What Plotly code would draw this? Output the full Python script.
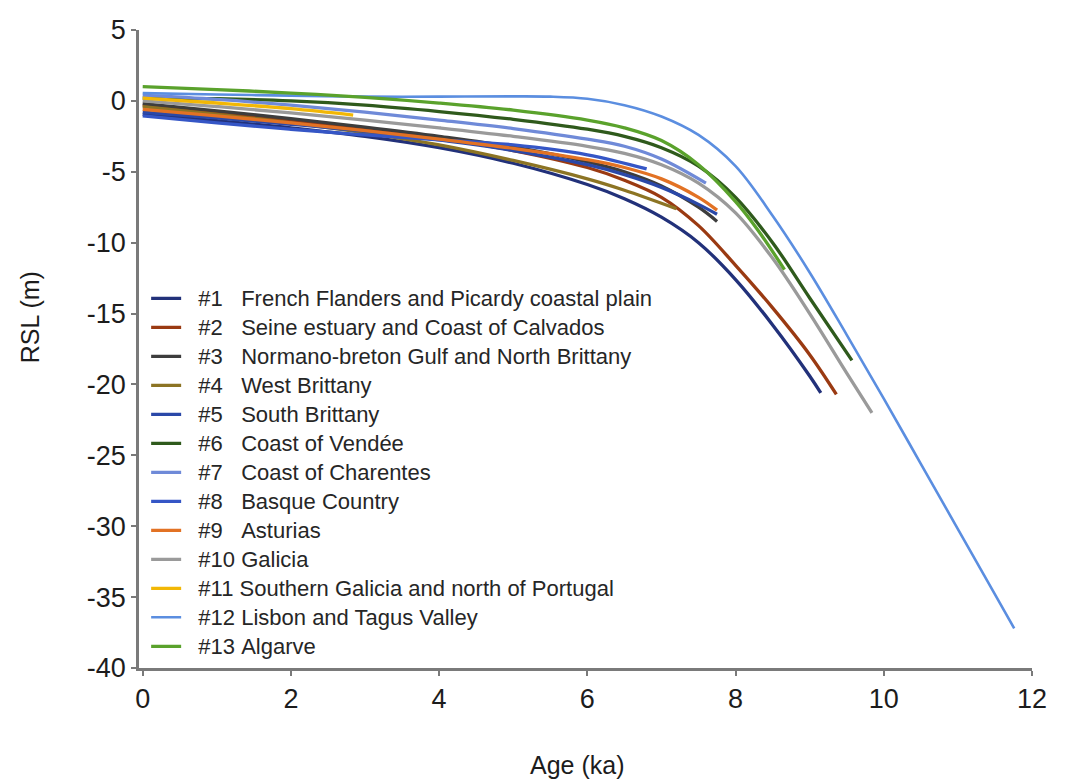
import plotly.graph_objects as go

# ---- data ----
names = [
    "#1", "#2", "#3", "#4", "#5", "#6", "#7", "#8", "#9", "#10", "#11", "#12", "#13",
]
regions = [
    "French Flanders and Picardy coastal plain",
    "Seine estuary and Coast of Calvados",
    "Normano-breton Gulf and North Brittany",
    "West Brittany",
    "South Brittany",
    "Coast of Vendée",
    "Coast of Charentes",
    "Basque Country",
    "Asturias",
    "Galicia",
    "Southern Galicia and north of Portugal",
    "Lisbon and Tagus Valley",
    "Algarve",
]
colors = [
    "#22317a", "#9a3a12", "#3d3d3d", "#8c7424", "#2a48a8", "#2f5a1c", "#6f8ad8",
    "#3556c6", "#e27224", "#9a9a9a", "#f2b705", "#5b8ee0", "#5aa22c",
]
widths = [3.3, 3.3, 3.3, 3.3, 3.3, 3.3, 3.3, 3.3, 3.3, 3.3, 3.3, 2.6, 3.3]

age_1 = [0, 1, 2, 3, 4, 5, 6, 6.5, 7, 7.5, 8, 8.5, 9, 9.15]
rsl_1 = [-0.95, -1.4, -1.9, -2.5, -3.3, -4.4, -5.9, -6.9, -8.2, -10.0, -12.6, -15.8, -19.4, -20.6]
age_2 = [0, 1, 2, 3, 4, 5, 6, 6.5, 7, 7.5, 8, 8.5, 9, 9.36]
rsl_2 = [-0.3, -0.8, -1.35, -1.95, -2.65, -3.5, -4.7, -5.6, -6.8, -8.8, -11.6, -14.6, -17.9, -20.7]
age_3 = [0, 1, 2, 3, 4, 5, 6, 6.5, 7, 7.5, 7.75]
rsl_3 = [-0.2, -0.7, -1.25, -1.85, -2.5, -3.25, -4.3, -5.0, -6.0, -7.5, -8.5]
age_4 = [0, 1, 2, 3, 4, 5, 6, 6.5, 7.2]
rsl_4 = [-0.4, -0.95, -1.55, -2.25, -3.1, -4.2, -5.5, -6.3, -7.6]
age_5 = [0, 1, 2, 3, 4, 5, 6, 6.5, 7, 7.5, 7.75]
rsl_5 = [-0.8, -1.2, -1.65, -2.15, -2.75, -3.5, -4.5, -5.2, -6.1, -7.3, -8.0]
age_6 = [0, 1, 2, 3, 4, 5, 6, 6.5, 7, 7.5, 8, 8.5, 9, 9.57]
rsl_6 = [0.2, 0.15, 0.0, -0.3, -0.75, -1.3, -2.0, -2.5, -3.3, -4.6, -6.8, -10.0, -13.9, -18.3]
age_7 = [0, 1, 2, 3, 4, 5, 6, 6.5, 7, 7.6]
rsl_7 = [0.4, 0.1, -0.3, -0.8, -1.35, -1.95, -2.7, -3.2, -4.1, -5.8]
age_8 = [0, 1, 2, 3, 4, 5, 6, 6.8]
rsl_8 = [-1.05, -1.55, -2.0, -2.4, -2.75, -3.1, -3.8, -4.8]
age_9 = [0, 1, 2, 3, 4, 5, 6, 6.5, 7, 7.5, 7.75]
rsl_9 = [-0.6, -1.05, -1.55, -2.1, -2.7, -3.35, -4.15, -4.7, -5.5, -6.8, -7.7]
age_10 = [0, 1, 2, 3, 4, 5, 6, 6.5, 7, 7.5, 8, 8.5, 9, 9.5, 9.84]
rsl_10 = [0.0, -0.4, -0.85, -1.35, -1.9, -2.5, -3.2, -3.7, -4.5, -5.8, -7.9, -11.1, -15.0, -19.2, -22.0]
age_11 = [0, 1, 2, 2.84]
rsl_11 = [0.2, -0.15, -0.55, -1.0]
age_12 = [0, 1, 2, 3, 4, 5, 5.5, 6, 6.5, 7, 7.5, 8, 8.5, 9, 9.5, 10, 10.5, 11, 11.5, 11.76]
rsl_12 = [0.55, 0.45, 0.37, 0.3, 0.3, 0.32, 0.3, 0.15, -0.3, -1.1, -2.4, -4.6, -8.1, -12.1, -16.5, -21.0, -25.6, -30.2, -34.8, -37.2]
age_13 = [0, 1, 2, 3, 4, 5, 6, 6.5, 7, 7.5, 8, 8.3, 8.66]
rsl_13 = [1.0, 0.8, 0.55, 0.25, -0.15, -0.65, -1.35, -1.9, -2.8, -4.5, -7.1, -9.1, -11.9]

ages = [age_1, age_2, age_3, age_4, age_5, age_6, age_7, age_8, age_9, age_10, age_11, age_12, age_13]
rsls = [rsl_1, rsl_2, rsl_3, rsl_4, rsl_5, rsl_6, rsl_7, rsl_8, rsl_9, rsl_10, rsl_11, rsl_12, rsl_13]

x_ticks = [0, 2, 4, 6, 8, 10, 12]
x_tick_labels = ["0", "2", "4", "6", "8", "10", "12"]
y_ticks = [5, 0, -5, -10, -15, -20, -25, -30, -35, -40]
y_tick_labels = ["5", "0", "-5", "-10", "-15", "-20", "-25", "-30", "-35", "-40"]
x_title = "Age (ka)"
y_title = "RSL (m)"

# ---- figure ----
NB = "\u00a0"
fig = go.Figure()
for num, reg, col, w, xs, ys in zip(names, regions, colors, widths, ages, rsls):
    pad = NB * 3 if len(num) == 2 else NB
    label = '<span style="font-size:22px">' + NB * 2 + num + pad + reg + "</span>"
    fig.add_trace(go.Scatter(
        x=xs, y=ys, mode="lines", name=label,
        line=dict(color=col, width=w, shape="spline", smoothing=1.0),
    ))

axis_col = "#7a7a7a"
text_col = "#1c1c1c"
font_family = "Liberation Sans, Arial, sans-serif"
fig.update_layout(
    width=1079, height=784,
    margin=dict(l=131, r=55, t=22, b=124),
    paper_bgcolor="white", plot_bgcolor="white",
    font=dict(family=font_family, color=text_col),
    showlegend=True,
    legend=dict(
        x=0.008, y=0.61, xanchor="left", yanchor="top",
        font=dict(size=20, family=font_family, color="#262626"),
        bgcolor="rgba(0,0,0,0)", borderwidth=0,
        traceorder="normal", itemclick=False,
    ),
    annotations=[
        dict(text=y_title, xref="paper", yref="paper", x=-0.1226, y=0.549,
             xanchor="center", yanchor="middle", textangle=-90, showarrow=False,
             font=dict(size=25, color=text_col)),
        dict(text=x_title, xref="paper", yref="paper", x=0.4905, y=-0.152,
             xanchor="center", yanchor="middle", showarrow=False,
             font=dict(size=25, color=text_col)),
    ],
)
fig.update_xaxes(
    range=[-0.05, 12], tickvals=x_ticks, ticktext=x_tick_labels,
    showline=True, linecolor=axis_col, linewidth=2.5,
    ticks="outside", ticklen=5, tickwidth=2, tickcolor=axis_col,
    showgrid=False, zeroline=False, automargin=False,
    tickfont=dict(size=27, color=text_col),
)
fig.update_yaxes(
    range=[-40, 5], tickvals=y_ticks, ticktext=y_tick_labels,
    showline=True, linecolor=axis_col, linewidth=2.5,
    ticks="outside", ticklen=5, tickwidth=2, tickcolor=axis_col,
    showgrid=False, zeroline=False, automargin=False,
    tickfont=dict(size=27, color=text_col),
)

fig.write_html("out.html")
